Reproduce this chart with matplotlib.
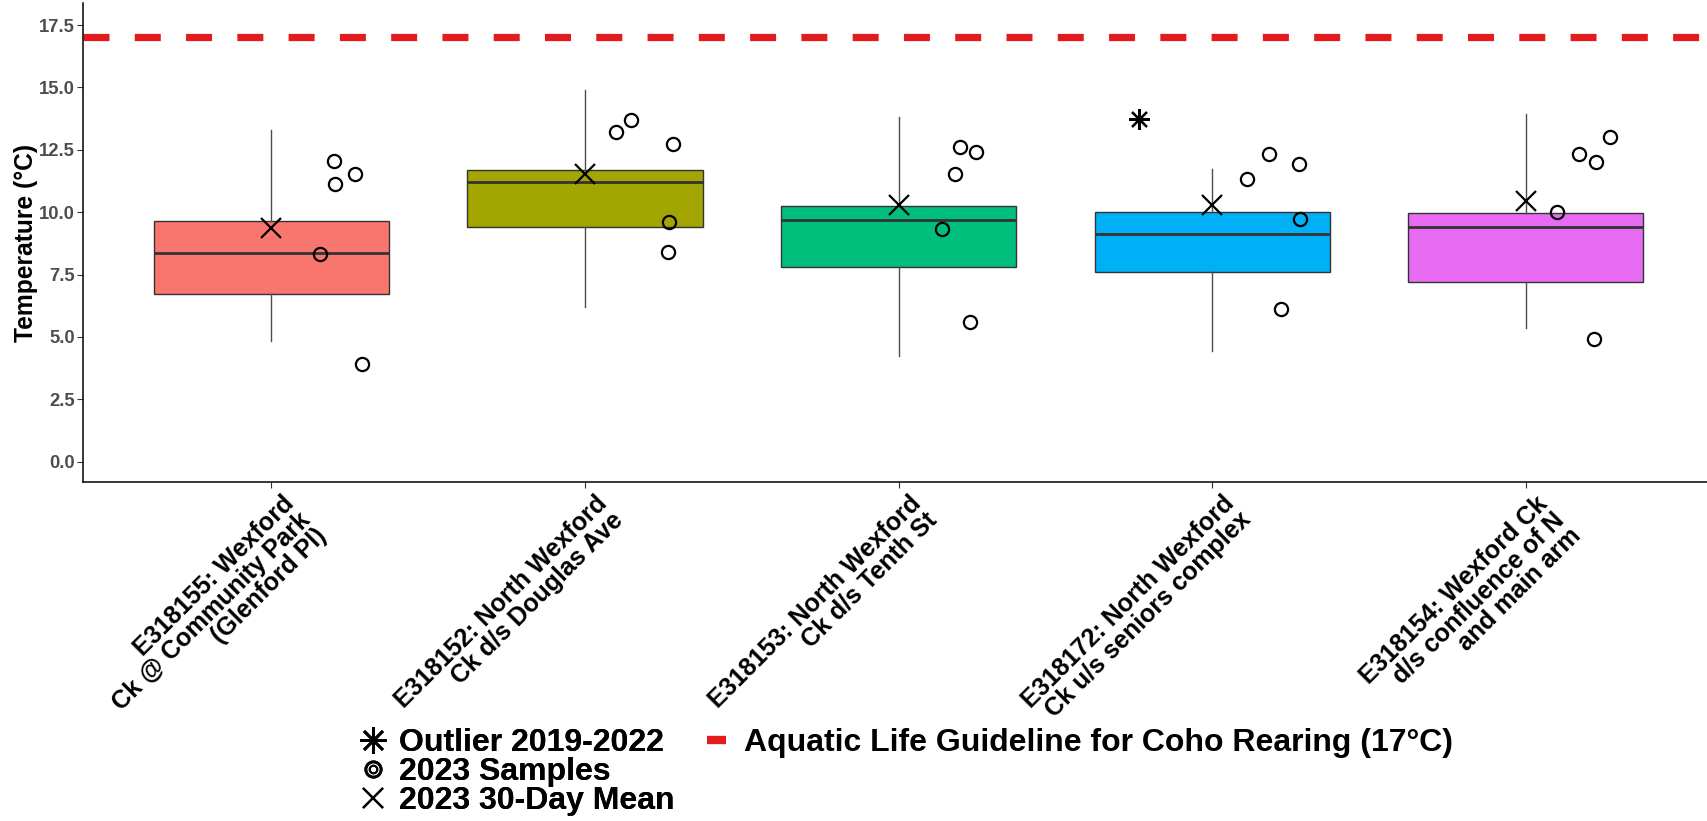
import matplotlib
matplotlib.use("Agg")
import matplotlib.pyplot as plt
import matplotlib.transforms as mtransforms
from matplotlib.lines import Line2D
from matplotlib.legend_handler import HandlerTuple
import numpy as np

plt.rcParams['font.family'] = ['Liberation Sans', 'DejaVu Sans']
plt.rcParams['font.weight'] = 'bold'

# ---------------- data ----------------
sites = [
    "E318155: Wexford\nCk @ Community Park\n(Glenford Pl)",
    "E318152: North Wexford\nCk d/s Douglas Ave",
    "E318153: North Wexford\nCk d/s Tenth St",
    "E318172: North Wexford\nCk u/s seniors complex",
    "E318154: Wexford Ck\nd/s confluence of N\nand main arm",
]
box_colors = ["#F8766D", "#A3A500", "#00BF7D", "#00B0F6", "#E76BF3"]

# 2019-2022 box statistics
whislo = [4.84, 6.21, 4.24, 4.44, 5.35]
q1 = [6.72, 9.39, 7.82, 7.62, 7.21]
median = [8.38, 11.22, 9.67, 9.11, 9.42]
q3 = [9.65, 11.68, 10.25, 10.02, 9.97]
whishi = [13.29, 14.90, 13.80, 11.72, 13.92]

# outliers 2019-2022 (site index, value, horizontal jitter)
outlier_site = [3]
outlier_value = [13.72]
outlier_jitter = [-0.232]

# 2023 30-day mean
mean_30day = [9.35, 11.53, 10.29, 10.29, 10.46]

# 2023 samples (value) and their horizontal jitter
samples = [
    [12.05, 11.13, 11.52, 8.31, 3.92],
    [13.23, 13.71, 12.72, 9.62, 8.42],
    [12.63, 12.43, 11.52, 9.31, 5.61],
    [12.33, 11.92, 11.32, 9.72, 6.12],
    [13.03, 12.33, 12.02, 10.02, 4.93],
]
sample_jitter = [
    [0.200, 0.202, 0.266, 0.155, 0.289],
    [0.098, 0.147, 0.280, 0.268, 0.266],
    [0.195, 0.246, 0.179, 0.139, 0.228],
    [0.180, 0.278, 0.110, 0.280, 0.220],
    [0.269, 0.170, 0.225, 0.098, 0.217],
]

guideline = 17.0
yticks = [0.0, 2.5, 5.0, 7.5, 10.0, 12.5, 15.0, 17.5]

# ---------------- figure ----------------
W, H = 1707, 821
fig = plt.figure(figsize=(W / 100, H / 100), dpi=100)
ax = fig.add_axes([83.3 / W, 1 - 481.7 / H, (1714 - 83.3) / W, (481.7 - 3.3) / H])

pos = np.arange(1, len(sites) + 1)
stats = []
for i in range(len(sites)):
    stats.append(dict(whislo=whislo[i], q1=q1[i], med=median[i], q3=q3[i],
                      whishi=whishi[i], fliers=[]))

bp = ax.bxp(stats, positions=pos, widths=0.75, patch_artist=True,
            showcaps=False, showfliers=False,
            boxprops=dict(edgecolor="#333333", linewidth=1.0),
            medianprops=dict(color="#333333", linewidth=2.0),
            whiskerprops=dict(color="#4D4D4D", linewidth=1.0), zorder=2)
for patch, c in zip(bp['boxes'], box_colors):
    patch.set_facecolor(c)

# guideline
ax.axhline(guideline, color="#E41A1C", linewidth=5.2, dashes=(3.6, 3.5),
           zorder=1)

# samples
for i in range(len(sites)):
    xs = pos[i] + np.array(sample_jitter[i])
    ax.plot(xs, samples[i], linestyle='none', marker='o', markersize=9.5,
            markerfacecolor='none', markeredgecolor='black',
            markeredgewidth=1.6, zorder=4)

# means
ax.plot(pos, mean_30day, linestyle='none', marker='x', markersize=15,
        markeredgewidth=1.6, color='black', zorder=5)

# outliers
ox = [pos[s] + j for s, j in zip(outlier_site, outlier_jitter)]
ax.plot(ox, outlier_value, linestyle='none', marker=(8, 2, 0),
        markersize=15, markeredgewidth=1.6, color='black', zorder=5)

# axes styling
ax.set_xlim(0.4, 5.6)
ax.set_ylim(-0.8, 18.37)
ax.set_yticks(yticks)
ax.set_yticklabels([f"{v:.1f}" for v in yticks])
ax.set_xticks(pos)
ax.set_xticklabels(sites)
for s in ['top', 'right']:
    ax.spines[s].set_visible(False)
for s in ['left', 'bottom']:
    ax.spines[s].set_color('black')
    ax.spines[s].set_linewidth(1.1)
ax.tick_params(axis='y', colors='#333333', labelcolor='#4D4D4D',
               labelsize=13.3, length=4, width=0.8, pad=2)
ax.tick_params(axis='x', colors='#333333', labelcolor='black',
               labelsize=18, length=4, width=0.8, pad=3)
offset = mtransforms.ScaledTranslation(10 / 100, 0, fig.dpi_scale_trans)
for lab in ax.get_xticklabels():
    lab.set_rotation(45)
    lab.set_ha('right')
    lab.set_va('top')
    lab.set_rotation_mode('anchor')
    lab.set_fontweight('bold')
    lab.set_linespacing(0.95)
    lab.set_transform(lab.get_transform() + offset)
for lab in ax.get_yticklabels():
    lab.set_fontweight('bold')

ax.set_ylabel("Temperature (°C)", fontsize=17.7, fontweight='bold',
              color='black')
ax.yaxis.set_label_coords(-0.028, 0.5)

# legends
h_out = Line2D([], [], linestyle='none', marker=(8, 2, 0), markersize=19,
               markeredgewidth=1.8, color='black')
h_s1 = Line2D([], [], linestyle='none', marker='o', markersize=11,
              markerfacecolor='none', markeredgecolor='black',
              markeredgewidth=2.0)
h_s2 = Line2D([], [], linestyle='none', marker='o', markersize=5.5,
              markerfacecolor='none', markeredgecolor='black',
              markeredgewidth=1.4)
h_mean = Line2D([], [], linestyle='none', marker='x', markersize=14,
                markeredgewidth=1.6, color='black')
leg1 = fig.legend([h_out, (h_s1, h_s2), h_mean],
                  ["Outlier 2019-2022", "2023 Samples", "2023 30-Day Mean"],
                  handler_map={tuple: HandlerTuple(ndivide=1)},
                  loc='upper left', bbox_to_anchor=(357 / W, 1 - 728 / H),
                  bbox_transform=fig.transFigure, frameon=False,
                  prop=dict(size=23, weight='bold'), borderpad=0,
                  borderaxespad=0, handlelength=1.0, handletextpad=0.33,
                  labelspacing=-0.03)
fig.add_artist(leg1)
h_g = Line2D([], [], color="#E41A1C", linewidth=6.0, solid_capstyle='butt')
fig.legend([h_g], ["Aquatic Life Guideline for Coho Rearing (17°C)"],
           loc='upper left', bbox_to_anchor=(706.6 / W, 1 - 728 / H),
           bbox_transform=fig.transFigure, frameon=False,
           prop=dict(size=23, weight='bold'), borderpad=0,
           borderaxespad=0, handlelength=0.6, handletextpad=0.56)

fig.savefig("out.png", dpi=100)
